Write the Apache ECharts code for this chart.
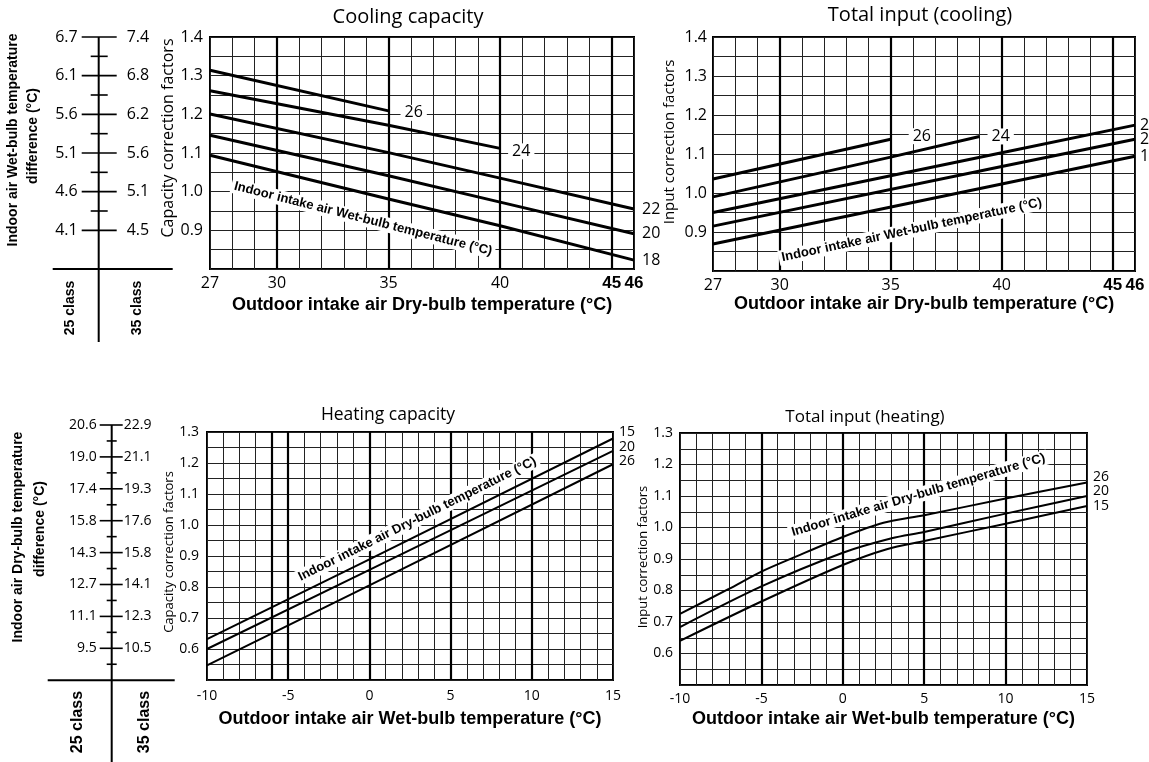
<!DOCTYPE html>
<html><head><meta charset="utf-8">
<script src="https://cdn.jsdelivr.net/npm/echarts@6/dist/echarts.min.js"></script>
<style>html,body{margin:0;padding:0;background:#fff}#c{width:1149px;height:762px}</style>
</head><body><div id="c"></div>
<script>
// ---------- DATA ----------
// Cooling capacity (x: outdoor dry-bulb °C, y: correction factor), per indoor wet-bulb temp
const ccNames = ['26', '24', '22', '20', '18'];
const cc26 = [[27, 1.314], [35, 1.209]];
const cc24 = [[27, 1.261], [35, 1.172], [40, 1.112]];
const cc22 = [[27, 1.201], [35, 1.101], [40, 1.035], [46, 0.955]];
const cc20 = [[27, 1.146], [35, 1.041], [40, 0.973], [46, 0.891]];
const cc18 = [[27, 1.094], [35, 0.981], [40, 0.912], [46, 0.823]];
// Total input (cooling)
const ciNames = ['26', '24', '22', '20', '18'];
const ci26 = [[27, 1.036], [35, 1.138]];
const ci24 = [[27, 0.990], [35, 1.092], [39, 1.145]];
const ci22 = [[27, 0.950], [40, 1.103], [46, 1.174]];
const ci20 = [[27, 0.915], [40, 1.068], [46, 1.138]];
const ci18 = [[27, 0.869], [40, 1.023], [46, 1.094]];
// Heating capacity (x: outdoor wet-bulb °C), per indoor dry-bulb temp
const hcNames = ['15', '20', '26'];
const hc15 = [[-10, 0.632], [0, 0.889], [15, 1.279]];
const hc20 = [[-10, 0.600], [0, 0.855], [15, 1.239]];
const hc26 = [[-10, 0.547], [0, 0.805], [15, 1.196]];
// Total input (heating)
const hiNames = ['26', '20', '15'];
const hi26 = [[-10, 0.726], [-7, 0.805], [-5, 0.860], [-3, 0.905], [0, 0.970], [2.5, 1.015], [5, 1.039], [10, 1.092], [15, 1.143]];
const hi20 = [[-10, 0.684], [-5, 0.813], [0, 0.920], [3, 0.966], [5, 0.986], [10, 1.044], [15, 1.100]];
const hi15 = [[-10, 0.640], [-5, 0.765], [0, 0.881], [2.7, 0.931], [5, 0.957], [10, 1.012], [15, 1.068]];
// Axis tick labels
const coolXLabels = [27, 30, 35, 40, 45, 46];
const coolThick = [30, 35, 40, 45];
const heatXLabels = [-10, -5, 0, 5, 10, 15];
const heatCapThick = [-6, -5, 0, 5, 10];
const heatInThick = [-5, 0, 5, 10];
// Nomogram scales
const coolScaleLevels = [0.9, 1.0, 1.1, 1.2, 1.3, 1.4];
const coolScaleMinor = [0.95, 1.05, 1.15, 1.25, 1.35];
const coolScale25 = ['4.1', '4.6', '5.1', '5.6', '6.1', '6.7'];
const coolScale35 = ['4.5', '5.1', '5.6', '6.2', '6.8', '7.4'];
const heatScaleLevels = [0, 1, 2, 3, 4, 5, 6, 7];
const heatScaleMinor = [-0.5, 0.5, 1.5, 2.5, 3.5, 4.5, 5.5, 6.5];
const heatScale25 = ['9.5', '11.1', '12.7', '14.3', '15.8', '17.4', '19.0', '20.6'];
const heatScale35 = ['10.5', '12.3', '14.1', '15.8', '17.6', '19.3', '21.1', '22.9'];

// ---------- STYLE ----------
const NUM = '"Open Sans","Noto Sans",sans-serif';
const NARROW = '"Liberation Sans Narrow","Liberation Sans",Arial,sans-serif';
const GRIDC = '#222';

const chart = echarts.init(document.getElementById('c'), null, {renderer: 'canvas'});

function grid(l, t, w, h, show) {
  return {left: l, top: t, width: w, height: h, show: !!show, borderColor: '#000', borderWidth: 2,
    backgroundColor: 'transparent', containLabel: false, outerBoundsMode: 'none'};
}
function xAx(gi, min, max, labels, fs, margin, name, nameFs, nameGap) {
  return {
    gridIndex: gi, type: 'value', min: min, max: max, interval: 1,
    axisLine: {show: false}, axisTick: {show: false},
    splitLine: {show: true, lineStyle: {color: GRIDC, width: 1}},
    axisLabel: {
      interval: 0, margin: margin, color: '#000', fontFamily: NUM, fontSize: fs, hideOverlap: false,
      formatter: v => labels.indexOf(v) < 0 ? '' : (v >= 45 ? '{b|' + v + '}' : String(v)),
      rich: {b: {fontFamily: NARROW, fontWeight: 'bold', fontSize: fs + 1, color: '#000'}}
    },
    name: name, nameLocation: 'middle', nameGap: nameGap,
    nameTextStyle: {fontFamily: NARROW, fontWeight: 'bold', fontSize: nameFs, color: '#000'}
  };
}
function yAx(gi, min, max, fs, margin) {
  return {
    gridIndex: gi, type: 'value', min: min, max: max, interval: 0.1,
    axisLine: {show: false}, axisTick: {show: false},
    splitLine: {show: true, lineStyle: {color: GRIDC, width: 1}},
    minorTick: {show: false, splitNumber: 2},
    minorSplitLine: {show: true, lineStyle: {color: GRIDC, width: 1}},
    axisLabel: {margin: margin, color: '#000', fontFamily: NUM, fontSize: fs,
      formatter: v => v < min + 0.05 ? '' : v.toFixed(1)}
  };
}
function hiddenAx(gi, min, max) {
  return {gridIndex: gi, type: 'value', min: min, max: max, show: false, splitLine: {show: false}};
}
function curve(name, data, xi, w, endCfg, extra) {
  const s = {
    name: name, type: 'line', xAxisIndex: xi, yAxisIndex: xi, data: data, symbol: 'none',
    smooth: false, silent: true, z: 5,
    lineStyle: {color: '#000', width: w},
    endLabel: Object.assign({show: true, formatter: name, color: '#000', fontFamily: NUM}, endCfg)
  };
  return Object.assign(s, extra || {});
}
function thick(vals) {
  return {silent: true, symbol: 'none', label: {show: false}, animation: false,
    lineStyle: {color: '#000', width: 2.2, type: 'solid'}, data: vals.map(v => ({xAxis: v}))};
}
function note(text, coord, rot) {
  return {silent: true, symbol: 'circle', symbolSize: 0, animation: false,
    data: [{coord: coord, value: 0}],
    label: {show: true, position: 'inside', formatter: text, rotate: rot, backgroundColor: '#fff',
      padding: [1, 3], color: '#000', fontFamily: NARROW, fontWeight: 'bold', fontSize: 13}};
}
function scaleSeries(gi, levels, minor, lab25, lab35, base, cfg) {
  return [
    {type: 'custom', xAxisIndex: gi, yAxisIndex: gi, silent: true, z: 3,
      data: [[0, levels[levels.length - 1]]],
      renderItem: (params, api) => {
        const top = api.coord([0, api.value(1)]);
        const bot = api.coord([0, base]);
        return {type: 'group', children: [
          {type: 'line', shape: {x1: top[0], y1: top[1], x2: bot[0], y2: bot[1] + cfg.tail}, style: {stroke: '#000', lineWidth: 2}},
          {type: 'line', shape: {x1: bot[0] - cfg.barL, y1: bot[1], x2: bot[0] + cfg.barR, y2: bot[1]}, style: {stroke: '#000', lineWidth: 2}}
        ]};
      }},
    {type: 'custom', xAxisIndex: gi, yAxisIndex: gi, silent: true, z: 3,
      data: levels.map((v, i) => [0, v, i]),
      renderItem: (params, api) => {
        const p = api.coord([0, api.value(1)]);
        const i = api.value(2);
        const font = cfg.fs + 'px ' + NUM;
        return {type: 'group', children: [
          {type: 'line', shape: {x1: p[0] - cfg.majL, y1: p[1], x2: p[0] + cfg.majR, y2: p[1]}, style: {stroke: '#000', lineWidth: 1.6}},
          {type: 'text', style: {text: lab25[i], x: p[0] - cfg.lab25, y: p[1], align: 'right', verticalAlign: 'middle', font: font, fill: '#000'}},
          {type: 'text', style: {text: lab35[i], x: p[0] + cfg.lab35, y: p[1], align: 'left', verticalAlign: 'middle', font: font, fill: '#000'}}
        ]};
      }},
    {type: 'custom', xAxisIndex: gi, yAxisIndex: gi, silent: true, z: 3,
      data: minor.map(v => [0, v]),
      renderItem: (params, api) => {
        const p = api.coord([0, api.value(1)]);
        return {type: 'line', shape: {x1: p[0] - cfg.minL, y1: p[1], x2: p[0] + cfg.minR, y2: p[1]}, style: {stroke: '#000', lineWidth: 1.6}};
      }}
  ];
}
function txt(t, x, y, font, rot) {
  return {type: 'text', x: x, y: y, rotation: rot || 0, silent: true,
    style: {text: t, font: font, fill: '#000', align: 'center', verticalAlign: 'middle',
      textAlign: 'center', textVerticalAlign: 'middle'}};
}

const R90 = Math.PI / 2;
const option = {
  animation: false,
  backgroundColor: '#fff',
  grid: [
    grid(210, 37, 424, 232, true),
    grid(713, 37, 422, 234, true),
    grid(207, 432, 406, 248, true),
    grid(680, 433, 407, 252, true),
    grid(28.7, 37, 140, 232, false),
    grid(41.7, 425, 140, 255.2, false)
  ],
  xAxis: [
    xAx(0, 27, 46, coolXLabels, 16, 6, 'Outdoor intake air Dry-bulb temperature (°C)', 18, 27),
    xAx(1, 27, 46, coolXLabels, 16, 6, 'Outdoor intake air Dry-bulb temperature (°C)', 18, 22),
    xAx(2, -10, 15, heatXLabels, 14, 9, 'Outdoor intake air Wet-bulb temperature (°C)', 18, 30),
    xAx(3, -10, 15, heatXLabels, 14, 7, 'Outdoor intake air Wet-bulb temperature (°C)', 18, 25),
    hiddenAx(4, -1, 1),
    hiddenAx(5, -1, 1)
  ],
  yAxis: [
    yAx(0, 0.8, 1.4, 16, 7),
    yAx(1, 0.8, 1.4, 16, 6),
    yAx(2, 0.5, 1.3, 14, 8),
    yAx(3, 0.5, 1.3, 14, 7),
    hiddenAx(4, 0.8, 1.4),
    hiddenAx(5, -1, 7)
  ],
  series: [
    // Cooling capacity
    curve(ccNames[0], cc26, 0, 3, {fontSize: 16, distance: 12, offset: [0, 2], backgroundColor: '#fff', padding: [0, 4]},
      {markLine: thick(coolThick), markPoint: note('Indoor intake air Wet-bulb temperature (°C)', [33.86, 0.93], -14.3)}),
    curve(ccNames[1], cc24, 0, 3, {fontSize: 16, distance: 8, offset: [0, 3], backgroundColor: '#fff', padding: [0, 4]}),
    curve(ccNames[2], cc22, 0, 3, {fontSize: 16, distance: 8}),
    curve(ccNames[3], cc20, 0, 3, {fontSize: 16, distance: 8}),
    curve(ccNames[4], cc18, 0, 3, {fontSize: 16, distance: 8}),
    // Total input (cooling)
    curve(ciNames[0], ci26, 1, 3, {fontSize: 16, distance: 18, offset: [0, -3], backgroundColor: '#fff', padding: [0, 4]},
      {markLine: thick(coolThick), markPoint: note('Indoor intake air Wet-bulb temperature (°C)', [35.95, 0.905], 12)}),
    curve(ciNames[1], ci24, 1, 3, {fontSize: 16, distance: 8, offset: [0, 0], backgroundColor: '#fff', padding: [0, 4]}),
    curve(ciNames[2], ci22, 1, 3, {fontSize: 16, distance: 5}),
    curve(ciNames[3], ci20, 1, 3, {fontSize: 16, distance: 5}),
    curve(ciNames[4], ci18, 1, 3, {fontSize: 16, distance: 5}),
    // Heating capacity
    curve(hcNames[0], hc15, 2, 2, {fontSize: 14, distance: 6, offset: [0, -6]},
      {markLine: thick(heatCapThick), markPoint: note('Indoor intake air Dry-bulb temperature (°C)', [2.95, 1.019], 26.4)}),
    curve(hcNames[1], hc20, 2, 2, {fontSize: 14, distance: 6, offset: [0, -4]}),
    curve(hcNames[2], hc26, 2, 2, {fontSize: 14, distance: 6, offset: [0, -3]}),
    // Total input (heating)
    curve(hiNames[0], hi26, 3, 2, {fontSize: 14, distance: 6, offset: [0, -5]},
      {smooth: 0.3, markLine: thick(heatInThick), markPoint: note('Indoor intake air Dry-bulb temperature (°C)', [4.64, 1.103], 16.5)}),
    curve(hiNames[1], hi20, 3, 2, {fontSize: 14, distance: 6, offset: [0, -5]}, {smooth: 0.3}),
    curve(hiNames[2], hi15, 3, 2, {fontSize: 14, distance: 6, offset: [0, 0]}, {smooth: 0.3})
  ].concat(
    scaleSeries(4, coolScaleLevels, coolScaleMinor, coolScale25, coolScale35, 0.8,
      {tail: 73, barL: 46, barR: 74, majL: 17, majR: 18, minL: 8, minR: 9, lab25: 21, lab35: 28, fs: 16}),
    scaleSeries(5, heatScaleLevels, heatScaleMinor, heatScale25, heatScale35, -1,
      {tail: 100, barL: 64, barR: 63, majL: 12, majR: 11, minL: 5, minR: 5, lab25: 15, lab35: 12, fs: 14})
  ),
  graphic: [
    txt('Cooling capacity', 408, 17, '20px ' + NUM),
    txt('Total input (cooling)', 920, 15, '20px ' + NUM),
    txt('Heating capacity', 388, 415, '17.5px ' + NUM),
    txt('Total input (heating)', 865, 417, '17px ' + NUM),
    txt('Capacity correction factors', 168, 138, '16px ' + NUM, R90),
    txt('Input correction factors', 670, 142, '15px ' + NUM, R90),
    txt('Capacity correction factors', 169, 552, '13px ' + NUM, R90),
    txt('Input correction factors', 643, 557, '13px ' + NUM, R90),
    txt('Indoor air Wet-bulb temperature', 13, 140, 'bold 14px ' + NARROW, R90),
    txt('difference (°C)', 33, 136, 'bold 14px ' + NARROW, R90),
    txt('Indoor air Dry-bulb temperature', 18, 537, 'bold 14px ' + NARROW, R90),
    txt('difference (°C)', 40, 529, 'bold 14px ' + NARROW, R90),
    txt('25 class', 70, 308, 'bold 14px "Liberation Sans",Arial,sans-serif', R90),
    txt('35 class', 137, 308, 'bold 14px "Liberation Sans",Arial,sans-serif', R90),
    txt('25 class', 78, 722, 'bold 16px "Liberation Sans",Arial,sans-serif', R90),
    txt('35 class', 145, 722, 'bold 16px "Liberation Sans",Arial,sans-serif', R90)
  ]
};
chart.setOption(option);
</script></body></html>
